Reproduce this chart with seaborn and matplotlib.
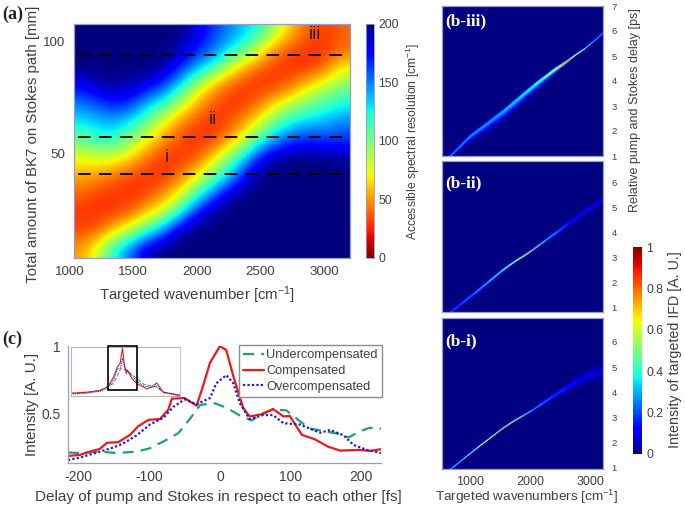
import numpy as np
import matplotlib
matplotlib.use("Agg")
import matplotlib.pyplot as plt
import seaborn as sns

sns.set_theme(style="white")
plt.rcParams['font.family'] = ['Liberation Sans', 'DejaVu Sans']
plt.rcParams['mathtext.default'] = 'regular'
plt.rcParams['axes.unicode_minus'] = False
GREY = '#3f3f3f'
FRAME = '#9a9cc8'

# ---------- panel (a): accessible spectral resolution ----------
a_extent = (1035, 3204, 3.2, 107.6)
a_row_00 = [200,200,200,200,200,200,200,185,165,150,135,118,82,56,36,31,40]
a_row_01 = [200,200,200,200,200,200,190,172,155,130,108,72,43,31,28,29,40]
a_row_02 = [200,200,200,200,200,195,170,140,118,80,52,36,29,28,29,43,72]
a_row_03 = [175,190,195,190,180,160,128,88,56,36,29,28,31,46,68,85,100]
a_row_04 = [150,160,170,165,135,118,85,56,36,29,31,46,70,90,105,115,125]
a_row_05 = [128,135,140,125,105,72,48,33,28,33,52,78,110,128,135,140,150]
a_row_06 = [105,118,118,95,70,48,33,28,31,52,82,122,150,165,170,165,165]
a_row_07 = [72,78,75,62,40,29,28,36,62,100,135,180,197,200,200,200,195]
a_row_08 = [54,48,40,31,28,29,43,68,105,132,178,200,200,200,200,200,200]
a_row_09 = [38,31,28,28,33,48,72,115,150,190,200,200,200,200,200,200,200]
a_row_10 = [29,28,31,38,60,82,122,172,200,200,200,200,200,200,200,200,200]
a_row_11 = [33,38,62,88,118,150,195,200,200,200,200,200,200,200,200,200,200]
a_row_12 = [52,82,125,155,190,200,200,200,200,200,200,200,200,200,200,200,200]
a_rows = [a_row_00, a_row_01, a_row_02, a_row_03, a_row_04, a_row_05, a_row_06,
          a_row_07, a_row_08, a_row_09, a_row_10, a_row_11, a_row_12]
a_cut_levels = [40.6, 57.4, 93.9]
a_cut_names = ['i', 'ii', 'iii']
a_cut_name_x = [1764, 2125, 2930]
a_cut_name_y = [48, 65, 103]

# ---------- panels (b): ridge tables ----------
biii_wave = [672, 975, 1300, 1554, 2077, 2408, 2520, 2622, 2738, 2900, 3050, 3208]
biii_centre = [1.0, 1.77, 2.37, 2.84, 3.9, 4.5, 4.67, 4.84, 5.05, 5.32, 5.62, 5.96]
biii_up = [.14, .12, .12, .12, .12, .11, .10, .09, .08, .08, .09, .12]
biii_down = [.16, .34, .50, .55, .42, .26, .16, .12, .08, .08, .09, .12]
biii_peak = [.25, .27, .27, .30, .40, .58, .75, .85, .72, .42, .30, .22]

bii_wave = [672, 1085, 1527, 1750, 1900, 2022, 2242, 2622, 2900, 3200]
bii_centre = [.8, 1.6, 2.48, 2.86, 3.08, 3.28, 3.68, 4.36, 4.85, 5.32]
bii_up = [.12, .11, .09, .08, .08, .08, .09, .14, .20, .24]
bii_down = [.20, .22, .14, .09, .08, .08, .12, .24, .32, .36]
bii_peak = [.18, .25, .42, .62, .80, .85, .34, .14, .10, .08]

bi_wave = [672, 1130, 1300, 1527, 1700, 2022, 2350, 2738, 3000, 3200]
bi_centre = [.95, 1.83, 2.14, 2.56, 2.84, 3.29, 3.82, 4.41, 4.72, 4.87]
bi_up = [.09, .08, .07, .07, .07, .09, .16, .30, .40, .45]
bi_down = [.09, .08, .07, .07, .07, .09, .20, .40, .50, .60]
bi_peak = [.30, .55, .70, .85, .72, .30, .18, .10, .08, .07]

cross_offset = [-1, -.7, -.4, -.2, 0, .2, .4, .7, 1]
cross_share = [0, .15, .45, .9, 1, .9, .45, .15, 0]

# ---------- panel (c): delay traces ----------
red_x = [-215,-198,-189,-170,-160,-144,-127,-116,-101,-85,-73,-68,-50,-33,-24,-14,0,9,19,33,42,61,75,90,99,116,134,153,170,198,212,228]
red_y = [.188,.196,.213,.240,.285,.290,.344,.406,.455,.460,.530,.611,.616,.559,.703,.876,1.0,.970,.777,.542,.480,.498,.535,.480,.483,.344,.312,.257,.228,.233,.225,.238]
blue_x = [-215,-198,-170,-151,-137,-118,-99,-80,-66,-50,-33,-14,-5,9,19,28,42,61,75,90,113,142,156,175,189,208,228]
blue_y = [.158,.176,.22,.25,.28,.34,.42,.47,.55,.606,.57,.616,.725,.785,.725,.58,.46,.49,.49,.43,.42,.36,.38,.34,.27,.233,.21]
teal_x = [-215,-198,-170,-146,-118,-99,-80,-59,-42,-28,-9,9,28,45,61,75,94,111,127,146,165,182,198,212,228]
teal_y = [.213,.21,.22,.21,.22,.245,.295,.356,.465,.564,.58,.545,.488,.45,.505,.53,.525,.453,.39,.373,.354,.325,.37,.396,.39]

inset_red_x = [-780,-536,-333,-217,-130,-69,-29,7,32,63,83,149,225,327,377,453,530,631,885]
inset_red_y = [.05,.07,.107,.18,.39,.607,.68,1.0,.68,.464,.536,.357,.25,.18,.14,.18,.264,.07,0]
inset_blue_x = [-780,-536,-333,-217,-130,-69,-20,7,40,90,149,225,327,453,530,631,885]
inset_blue_y = [.03,.05,.09,.15,.33,.55,.6,.78,.6,.5,.42,.3,.2,.17,.2,.07,.01]
inset_teal_x = [-780,-536,-333,-217,-130,-69,-20,30,90,149,225,327,453,530,631,885]
inset_teal_y = [.04,.06,.11,.2,.25,.42,.57,.55,.5,.45,.35,.24,.2,.18,.06,0]

W, H = 685, 508
fig = plt.figure(figsize=(W/100, H/100), dpi=100, facecolor='white')

def box(l, t, r, b):
    return fig.add_axes([l/W, 1-b/H, (r-l)/W, (b-t)/H])

def frame(ax, color=FRAME, lw=0.9):
    for s in ax.spines.values():
        s.set_visible(True)
        s.set_color(color)
        s.set_linewidth(lw)

# ---- (a)
ax = box(74, 24, 350, 258)
im = ax.imshow(np.array(a_rows, float), extent=a_extent, origin='upper', aspect='auto',
               cmap='jet_r', vmin=0, vmax=200, interpolation='bicubic', interpolation_stage='data')
for lvl in a_cut_levels:
    sns.lineplot(x=[1070, 3204], y=[lvl, lvl], color='black', lw=1.3, ax=ax,
                 linestyle=(0, (7, 4.6)), errorbar=None)
for nm, nx, ny in zip(a_cut_names, a_cut_name_x, a_cut_name_y):
    ax.text(nx, ny, nm, ha='center', va='center', fontsize=13, color='#222222')
ax.set_xticks([1500, 2000, 2500, 3000]); ax.set_yticks([50, 100])
ax.set_xlim(1035, 3204); ax.set_ylim(3.2, 107.6)
ax.tick_params(axis='both', length=0, labelsize=9.6, labelcolor=GREY, pad=6)
ax.text(1000, -8.3/234, '1000', transform=ax.get_xaxis_transform(), ha='center', va='top',
        fontsize=9.6, color=GREY, clip_on=False)
fig.text(33/W, 1-144/H, 'Total amount of BK7 on Stokes path [mm]', rotation=90,
         ha='center', va='center', fontsize=10.8, color=GREY)
fig.text(197/W, 1-295/H, 'Targeted wavenumber [cm$^{-1}$]', ha='center', va='center',
         fontsize=10.8, color=GREY)
frame(ax)

cax = box(366, 24, 374, 258)
cb = fig.colorbar(im, cax=cax, ticks=[0, 50, 100, 150, 200])
cb.ax.tick_params(length=2, width=0.5, color='#666666', labelsize=8.8, labelcolor=GREY, pad=3, direction='in')
cb.outline.set_edgecolor(FRAME); cb.outline.set_linewidth(.6)
fig.text(413/W, 1-141/H, 'Accessible spectral resolution [cm$^{-1}$]', rotation=90,
         ha='center', va='center', fontsize=8.7, color=GREY)

# ---- (b)
def ridge(t, b, wave, centre, up, down, peak, ylim, name, name_y, ticks, bottom=False):
    ax = box(442, t, 603, b)
    ax.set_facecolor(matplotlib.colormaps['jet'](0.0))
    wave_a, centre_a = np.array(wave, float), np.array(centre, float)
    up_a, down_a, peak_a = np.array(up), np.array(down), np.array(peak)
    off = np.array(cross_offset)
    XX = np.repeat(wave_a[None, :], len(off), axis=0)
    half = np.where(off[:, None] < 0, down_a[None, :], up_a[None, :])
    YY = centre_a[None, :] + off[:, None] * half
    CC = np.array(cross_share)[:, None] * peak_a[None, :]
    m = ax.pcolormesh(XX, YY, CC, shading='gouraud', cmap='jet', vmin=0, vmax=1)
    ax.set_xlim(540, 3200); ax.set_ylim(*ylim)
    ax.yaxis.tick_right()
    ax.set_yticks(ticks)
    ax.tick_params(axis='y', length=0, labelsize=6.8, labelcolor=GREY, pad=6)
    if bottom:
        ax.set_xticks([1000, 2000, 3000])
        ax.tick_params(axis='x', length=0, labelsize=9, labelcolor=GREY, pad=5)
    else:
        ax.set_xticks([])
    fig.text(445/W, 1-name_y/H, name, color='white', family='Liberation Serif', weight='bold',
             fontsize=12.5, ha='left', va='center')
    frame(ax)
    return m

m3 = ridge(6, 156, biii_wave, biii_centre, biii_up, biii_down, biii_peak, (1, 7), '(b-iii)', 21, [1,2,3,4,5,6,7])
ridge(161, 312, bii_wave, bii_centre, bii_up, bii_down, bii_peak, (.8, 6.85), '(b-ii)', 183, [1,2,3,4,5,6])
ridge(318, 469, bi_wave, bi_centre, bi_up, bi_down, bi_peak, (.95, 6.95), '(b-i)', 341, [1,2,3,4,5,6], bottom=True)
fig.text(527/W, 1-497/H, 'Targeted wavenumbers [cm$^{-1}$]', ha='center', va='center',
         fontsize=9.7, color=GREY)
fig.text(635/W, 1-110/H, 'Relative pump and Stokes delay [ps]', rotation=90, ha='center',
         va='center', fontsize=9, color=GREY)

cax2 = box(633, 247, 642, 454)
cb2 = fig.colorbar(m3, cax=cax2, ticks=[0, .2, .4, .6, .8, 1])
cb2.ax.set_yticklabels(['0', '0.2', '0.4', '0.6', '0.8', '1'])
cb2.ax.tick_params(length=0, labelsize=8.8, labelcolor=GREY, pad=3)
cb2.outline.set_visible(False)
fig.text(675/W, 1-350/H, 'Intensity of targeted IFD [A. U.]', rotation=90, ha='center',
         va='center', fontsize=10.3, color=GREY)

# ---- (c)
TEAL, RED, BLUE = '#1f9e80', '#f0181c', '#1a1ae0'
ax = box(68, 346, 381, 463)
sns.lineplot(x=teal_x, y=teal_y, color=TEAL, lw=1.6, linestyle=(0, (5, 3.2)), ax=ax,
             label='Undercompensated', sort=False, errorbar=None)
sns.lineplot(x=red_x, y=red_y, color=RED, lw=1.6, ax=ax, label='Compensated', sort=False, errorbar=None)
sns.lineplot(x=blue_x, y=blue_y, color=BLUE, lw=1.6, linestyle=(0, (1, 1)), ax=ax,
             label='Overcompensated', sort=False, errorbar=None)
ax.set_xlim(-215, 228); ax.set_ylim(.136, 1.0)
ax.set_xticks([-200, -100, 0, 100, 200]); ax.set_yticks([.5, 1])
ax.set_yticklabels(['0.5', '1'])
ax.tick_params(axis='both', length=0, labelsize=10, labelcolor=GREY, pad=5)
frame(ax)
ax.spines['top'].set_visible(False); ax.spines['right'].set_visible(False)
leg = ax.legend(loc='upper left', bbox_to_anchor=((239-68)/313, 1.005), fontsize=9.2,
                frameon=True, fancybox=False, edgecolor='#8c8c8c', framealpha=1,
                borderpad=0.3, labelspacing=0.3, handlelength=1.65, handletextpad=.2,
                borderaxespad=0, labelcolor=GREY)
leg.get_frame().set_linewidth(1.0)
fig.text(32/W, 1-404/H, 'Intensity [A. U.]', rotation=90, ha='center', va='center',
         fontsize=11, color=GREY)
fig.text(218/W, 1-497/H, 'Delay of pump and Stokes in respect to each other [fs]', ha='center',
         va='center', fontsize=11, color=GREY)

ins = box(71, 347, 180, 396)
ins.patch.set_facecolor('white')
sns.lineplot(x=inset_teal_x, y=inset_teal_y, color=TEAL, lw=.7, linestyle=(0, (4, 2)), ax=ins,
             sort=False, errorbar=None)
sns.lineplot(x=inset_red_x, y=inset_red_y, color=RED, lw=.8, ax=ins, sort=False, errorbar=None)
sns.lineplot(x=inset_blue_x, y=inset_blue_y, color=BLUE, lw=.7, linestyle=(0, (1, 1)), ax=ins,
             sort=False, errorbar=None)
ins.set_xlim(-780, 885); ins.set_ylim(-.01, 1.02)
ins.set_xticks([]); ins.set_yticks([])
frame(ins, '#b5b5b5', .8)
ins.spines['right'].set_color('#c8c8c8')
ins.add_patch(plt.Rectangle((-217, 0.107), 445, 0.93, fill=False, ec='black', lw=1.2, clip_on=False, zorder=5))

# ---- outer labels
fig.text(2/W, 1-14/H, '(a)', family='Liberation Serif', weight='bold', fontsize=13, color='#222222', va='center')
fig.text(2/W, 1-339/H, '(c)', family='Liberation Serif', weight='bold', fontsize=13, color='#222222', va='center')

fig.savefig('out.png', dpi=100)
